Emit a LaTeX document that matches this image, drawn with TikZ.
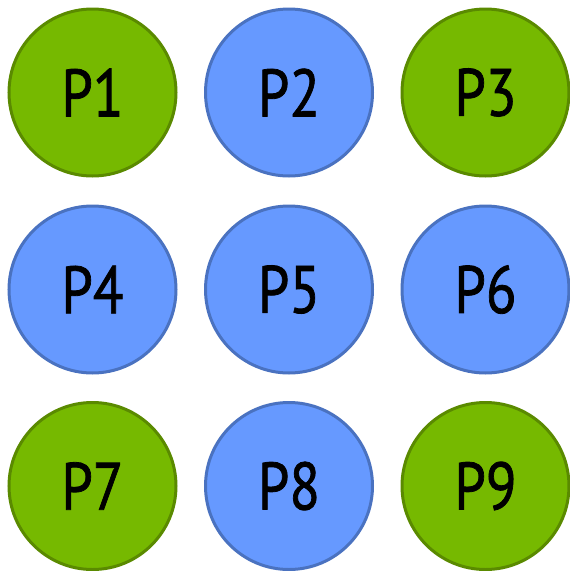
\documentclass[tikz,border=0pt]{standalone}
\usepackage{fontspec}
\setmainfont{PT Sans}
\newfontfamily\pfont{PT Sans}[FakeBold=1.2]
\definecolor{gfill}{HTML}{76B900}
\definecolor{gline}{HTML}{5A8A00}
\definecolor{bfill}{HTML}{6699FF}
\definecolor{bline}{HTML}{4A72C0}
\newcommand{\plab}[1]{\scalebox{0.84}[1]{#1}}
\begin{document}
\begin{tikzpicture}[x=1pt,y=-1pt,
  pbase/.style={circle,minimum size=167pt,inner sep=0pt,line width=3pt,font=\pfont\fontsize{67}{67}\selectfont,text=black},
  gcirc/.style={pbase,fill=gfill,draw=gline},
  bcirc/.style={pbase,fill=bfill,draw=bline}]
\useasboundingbox (0,0) rectangle (570,571);
\node[gcirc] (p1) at (92.5,92.5) {\plab{P1}};
\node[bcirc] (p2) at (289,92.5) {\plab{P2}};
\node[gcirc] (p3) at (485.5,92.5) {\plab{P3}};
\node[bcirc] (p4) at (92.5,289.5) {\plab{P4}};
\node[bcirc] (p5) at (289,289.5) {\plab{P5}};
\node[bcirc] (p6) at (485.5,289.5) {\plab{P6}};
\node[gcirc] (p7) at (92.5,486) {\plab{P7}};
\node[bcirc] (p8) at (289,486) {\plab{P8}};
\node[gcirc] (p9) at (485.5,486) {\plab{P9}};
\end{tikzpicture}
\end{document}
